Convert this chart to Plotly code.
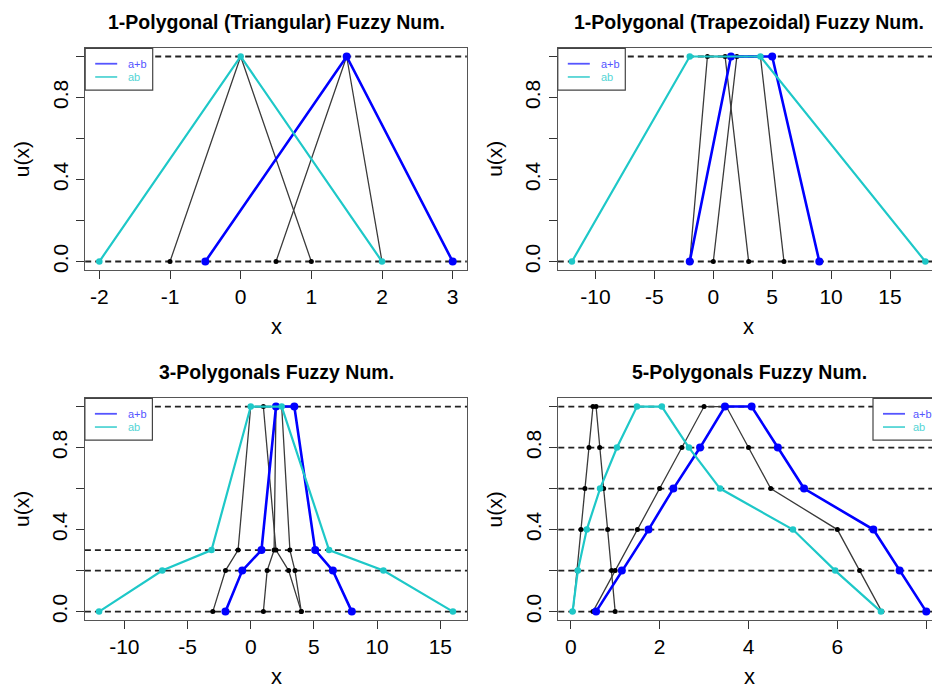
import plotly.graph_objects as go

# ---------------- data ----------------
tri_levels = [0, 1, 0]
tri_a = [-1, 0, 1]
tri_b = [0.5, 1.5, 2]
tri_sum = [-0.5, 1.5, 3]
tri_prod = [-2, 0, 2]

trap_levels = [0, 1, 1, 0]
trap_a = [-2, -0.5, 1, 3]
trap_b = [0, 2, 4, 6]
trap_sum = [-2, 1.5, 5, 9]
trap_prod = [-12, -2, 4, 18]

poly3_levels = [0, 0.2, 0.3, 1, 1, 0.3, 0.2, 0]
poly3_a = [-3, -2, -1, 0, 1, 2, 3, 4]
poly3_b = [1, 1.3, 1.85, 2, 2.45, 3.1, 3.5, 4]
poly3_sum = [-2, -0.67, 0.85, 2, 3.45, 5.1, 6.5, 8]
poly3_prod = [-12, -7, -3.1, 0, 2.45, 6.2, 10.5, 16]

poly5_levels = [0, 0.2, 0.4, 0.6, 0.8, 1, 1, 0.8, 0.6, 0.4, 0.2, 0]
poly5_a = [0.05, 0.14, 0.23, 0.32, 0.41, 0.5, 0.57, 0.65, 0.74, 0.83, 0.92, 1.0]
poly5_b = [0.5, 1.0, 1.5, 2.0, 2.5, 3.0, 3.5, 4.0, 4.5, 6.0, 6.5, 7.0]
poly5_sum = [0.57, 1.15, 1.75, 2.31, 2.91, 3.47, 4.07, 4.66, 5.25, 6.81, 7.4, 8.0]
poly5_prod = [0.04, 0.16, 0.36, 0.66, 1.04, 1.49, 2.05, 2.66, 3.36, 5.0, 5.95, 6.98]

titles = ["1-Polygonal (Triangular) Fuzzy Num.",
          "1-Polygonal (Trapezoidal) Fuzzy Num.",
          "3-Polygonals Fuzzy Num.",
          "5-Polygonals Fuzzy Num."]
hlevels = [[0, 1], [0, 1], [0, 0.2, 0.3, 1], [0, 0.2, 0.4, 0.6, 0.8, 1]]
xticks = [[-2, -1, 0, 1, 2, 3], [-10, -5, 0, 5, 10, 15],
          [-10, -5, 0, 5, 10, 15], [0, 2, 4, 6, 8]]
yticks = [0, 0.2, 0.4, 0.6, 0.8, 1.0]
ytick_text = ["0.0", "", "0.4", "", "0.8", ""]
legend_labels = ["a+b", "ab"]

panels_data = [
    (tri_levels, tri_a, tri_b, tri_sum, tri_prod),
    (trap_levels, trap_a, trap_b, trap_sum, trap_prod),
    (poly3_levels, poly3_a, poly3_b, poly3_sum, poly3_prod),
    (poly5_levels, poly5_a, poly5_b, poly5_sum, poly5_prod),
]

# ---------------- layout geometry (reference pixels) ----------------
W, H = 932, 691
def px(x): return x / W
def py(y): return 1 - y / H

VIS_R = 932.0
# (left, right_visible, top, bottom, xrange)
geo = [
    (85.2, 466.8, 48.5, 270.9, [-2.2, 3.2]),
    (557.8, VIS_R, 48.5, 270.9, [-13.2, -13.2 + (VIS_R - 557.8) / 11.78]),
    (84.9, 467.1, 400.1, 622.5, [-13.12, 17.12]),
    (558.3, VIS_R, 400.1, 622.5, [-0.28, -0.28 + (VIS_R - 558.3) / 44.44]),
]
box_full_right = [466.8, 939.5, 467.1, 940.5]
legend_pos = ["left", "left", "left", "right"]

FONT = "Liberation Sans, Arial, sans-serif"
BLUE = "#0000FF"
CYAN = "#1EC8C8"
BLACK = "#3a3a3a"

def fmt(v):
    return str(v)  # plain hyphen-minus like R

fig = go.Figure()
shapes = []
annotations = []

for i, (lev, a, b, s, p) in enumerate(panels_data):
    n = i + 1
    xa = "x" if n == 1 else f"x{n}"
    ya = "y" if n == 1 else f"y{n}"
    for arr in (a, b):
        fig.add_trace(go.Scatter(x=arr, y=lev, mode="lines+markers", xaxis=xa, yaxis=ya,
                                 line=dict(color=BLACK, width=1.3),
                                 marker=dict(color="black", size=5), showlegend=False,
                                 cliponaxis=False))
    fig.add_trace(go.Scatter(x=s, y=lev, mode="lines+markers", xaxis=xa, yaxis=ya,
                             line=dict(color=BLUE, width=2.6),
                             marker=dict(color=BLUE, size=8), showlegend=False,
                             cliponaxis=False))
    fig.add_trace(go.Scatter(x=p, y=lev, mode="lines+markers", xaxis=xa, yaxis=ya,
                             line=dict(color=CYAN, width=2.2),
                             marker=dict(color=CYAN, size=6.5), showlegend=False,
                             cliponaxis=False))

    left, right, top, bottom, xr = geo[i]
    right_side = right >= VIS_R - 0.1
    ax_common = dict(showgrid=False, zeroline=False, showline=True, linecolor="#555555",
                     linewidth=1.3, ticks="outside", ticklen=8, tickwidth=1.2,
                     tickcolor="#333333", ticklabelstandoff=0,
                     tickfont=dict(family=FONT, size=21, color="black"))
    fig.update_layout(**{
        ("xaxis" if n == 1 else f"xaxis{n}"): dict(
            domain=[px(left), min(px(right), 1.0)], range=xr, anchor=ya, mirror=True,
            tickmode="array", tickvals=xticks[i], ticktext=[fmt(v) for v in xticks[i]],
            **ax_common),
        ("yaxis" if n == 1 else f"yaxis{n}"): dict(
            domain=[py(bottom), py(top)], range=[-0.04, 1.04], anchor=xa,
            mirror=not right_side, tickmode="array", tickvals=yticks,
            ticktext=ytick_text, tickangle=-90, **ax_common),
    })

    # dashed horizontal reference lines
    for lv in hlevels[i]:
        shapes.append(dict(type="line", xref=f"{xa} domain", yref=ya,
                           x0=0, x1=1, y0=lv, y1=lv, layer="below",
                           line=dict(color="#222222", width=1.8, dash="6px,4px")))

    cx = (left + box_full_right[i]) / 2
    # title
    annotations.append(dict(text=f"<b>{titles[i]}</b>", x=px(cx), y=py(top - 26),
                            xref="paper", yref="paper", showarrow=False,
                            xanchor="center", yanchor="middle",
                            font=dict(family=FONT, size=19.5, color="black")))
    # axis titles
    annotations.append(dict(text="x", x=px(cx), y=py(bottom + 57), xref="paper", yref="paper",
                            showarrow=False, xanchor="center", yanchor="middle",
                            font=dict(family=FONT, size=22, color="black")))
    annotations.append(dict(text="u(x)", x=px(left - 64), y=py((top + bottom) / 2),
                            xref="paper", yref="paper", showarrow=False, textangle=-90,
                            xanchor="center", yanchor="middle",
                            font=dict(family=FONT, size=21, color="black")))

    # legend box
    if legend_pos[i] == "left":
        lx0 = left
    else:
        lx0 = box_full_right[i] - 67.5
    lx1 = lx0 + 67.5
    ly0, ly1 = top, top + 42
    shapes.append(dict(type="rect", xref="paper", yref="paper",
                       x0=px(lx0), x1=px(lx1), y0=py(ly1), y1=py(ly0),
                       fillcolor="white", layer="above",
                       line=dict(color="#444444", width=1.2)))
    tx = lx0 + 41 if legend_pos[i] == "left" else lx0 + 38
    for k, (lab, col) in enumerate(zip(legend_labels, ["#5555FF", "#55D5D5"])):
        yy = ly0 + 15.5 + k * 13.3
        shapes.append(dict(type="line", xref="paper", yref="paper",
                           x0=px(lx0 + 10), x1=px(lx0 + 32), y0=py(yy), y1=py(yy),
                           layer="above", line=dict(color=col, width=1.8)))
        annotations.append(dict(text=lab, x=px(tx), y=py(yy), xref="paper", yref="paper",
                                showarrow=False, xanchor="left", yanchor="middle",
                                font=dict(family=FONT, size=11, color=col)))

fig.update_layout(width=W, height=H, margin=dict(l=0, r=0, t=0, b=0),
                  paper_bgcolor="white", plot_bgcolor="white",
                  shapes=shapes, annotations=annotations, showlegend=False)

fig.write_html("out.html",
               config={"displayModeBar": False},
               post_script="document.body.style.margin='0';"
                           "document.body.style.overflow='hidden';"
                           "document.documentElement.style.overflow='hidden';")
